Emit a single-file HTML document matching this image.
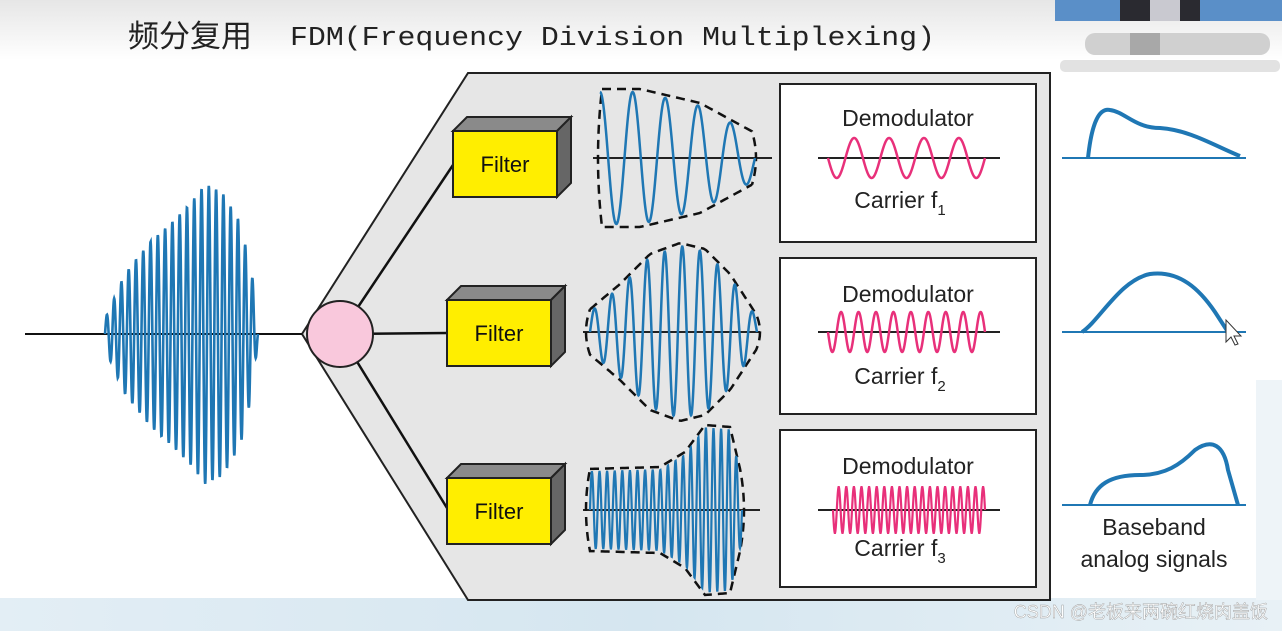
<!DOCTYPE html>
<html><head><meta charset="utf-8">
<style>
html,body{margin:0;padding:0;width:1282px;height:631px;overflow:hidden;background:#fff}
svg{display:block}
</style></head><body>
<svg id="s" width="1282" height="631" viewBox="0 0 1282 631" xmlns="http://www.w3.org/2000/svg">
<defs>
<linearGradient id="top" x1="0" y1="0" x2="0" y2="1">
<stop offset="0" stop-color="#e6e6e6"/><stop offset="1" stop-color="#ffffff"/></linearGradient>
<linearGradient id="bot" x1="0" y1="0" x2="1" y2="0">
<stop offset="0" stop-color="#e3eef5"/><stop offset="0.5" stop-color="#d5e6f0"/><stop offset="1" stop-color="#e8f1f6"/></linearGradient>
</defs>
<rect x="0" y="0" width="1282" height="60" fill="url(#top)"/>
<rect x="0" y="598" width="1282" height="33" fill="url(#bot)"/>
<rect x="1256" y="380" width="26" height="220" fill="#eef4f8"/>
<rect x="1055" y="0" width="227" height="21" fill="#5a8fc8"/>
<rect x="1120" y="0" width="80" height="21" fill="#2a2a30"/>
<rect x="1150" y="0" width="30" height="21" fill="#c9c9d0"/>
<rect x="1085" y="33" width="185" height="22" rx="10" fill="#d0d0d0"/>
<rect x="1130" y="33" width="30" height="22" fill="#a8a8a8"/>
<rect x="1060" y="60" width="220" height="12" rx="5" fill="#e2e2e2"/>
<text x="128" y="47" font-family="'Noto Sans CJK SC',sans-serif" font-size="31" fill="#222">频分复用</text>
<text x="290" y="45" font-family="'Liberation Mono','DejaVu Sans Mono',monospace" font-size="27" fill="#222" textLength="645" lengthAdjust="spacingAndGlyphs">FDM(Frequency Division Multiplexing)</text>
<polygon points="468,73 1050,73 1050,600 468,600 302,334" fill="#e6e6e6" stroke="#222" stroke-width="2"/>
<line x1="25" y1="334" x2="302" y2="334" stroke="#111" stroke-width="2"/>
<line x1="340" y1="334" x2="453" y2="165" stroke="#111" stroke-width="2.5"/>
<line x1="340" y1="334" x2="447" y2="333" stroke="#111" stroke-width="2.5"/>
<line x1="340" y1="334" x2="447" y2="508" stroke="#111" stroke-width="2.5"/>
<circle cx="340" cy="334" r="33" fill="#f9c8dc" stroke="#222" stroke-width="2"/>
<g id="filters" font-family="'Liberation Sans',sans-serif" font-size="22" fill="#111"></g>
<g font-family="'Liberation Sans',sans-serif" fill="#222">
<rect x="780" y="84" width="256" height="158" fill="#fff" stroke="#222" stroke-width="2"/>
<rect x="780" y="258" width="256" height="156" fill="#fff" stroke="#222" stroke-width="2"/>
<rect x="780" y="430" width="256" height="157" fill="#fff" stroke="#222" stroke-width="2"/>
<text x="908" y="126" font-size="23" text-anchor="middle">Demodulator</text>
<text x="908" y="302" font-size="23" text-anchor="middle">Demodulator</text>
<text x="908" y="474" font-size="23" text-anchor="middle">Demodulator</text>
<text x="900" y="208" font-size="23" text-anchor="middle">Carrier f<tspan font-size="15" dy="7">1</tspan></text>
<text x="900" y="384" font-size="23" text-anchor="middle">Carrier f<tspan font-size="15" dy="7">2</tspan></text>
<text x="900" y="556" font-size="23" text-anchor="middle">Carrier f<tspan font-size="15" dy="7">3</tspan></text>
<text x="1154" y="535" font-size="23" text-anchor="middle">Baseband</text>
<text x="1154" y="567" font-size="23" text-anchor="middle">analog signals</text>
</g>
<g id="waves" fill="none"></g>
<g stroke="#1f77b4" fill="none">
<line x1="1062" y1="158" x2="1246" y2="158" stroke-width="2"/>
<line x1="1062" y1="332" x2="1246" y2="332" stroke-width="2"/>
<line x1="1062" y1="505" x2="1246" y2="505" stroke-width="2"/>
<path d="M1088,158 C1092,120 1100,108 1110,110 C1125,112 1135,128 1160,128 C1190,130 1215,146 1240,156" stroke-width="4"/>
<path d="M1082,332 C1100,320 1120,280 1150,274 C1180,270 1200,290 1215,312 L1228,332" stroke-width="4"/>
<path d="M1090,505 C1095,485 1110,475 1140,475 C1165,475 1180,465 1195,450 C1212,438 1224,445 1228,470 L1238,505" stroke-width="4"/>
</g>
<path d="M1226,320 l0,22 l5,-5 l4,8 l3,-1 l-4,-8 l7,0 z" fill="#fff" stroke="#333" stroke-width="1"/>
<text x="1268" y="618" font-family="'Liberation Sans','Noto Sans CJK SC',sans-serif" font-size="18" fill="#fff" stroke="#999" stroke-width="0.4" text-anchor="end">CSDN @老板来两碗红烧肉盖饭</text>
</svg>
<script>
var NS="http://www.w3.org/2000/svg";
function el(p,t,a){var e=document.createElementNS(NS,t);for(var k in a)e.setAttribute(k,a[k]);p.appendChild(e);return e;}
function interp(env,x){for(var i=0;i<env.length-1;i++){if(x<=env[i+1][0]){var t=(x-env[i][0])/(env[i+1][0]-env[i][0]);return env[i][1]+t*(env[i+1][1]-env[i][1]);}}return env[env.length-1][1];}
function wave(x0,x1,cy,cycles,env,ph){var d="";var n=600;for(var i=0;i<=n;i++){var x=x0+(x1-x0)*i/n;var a=typeof env=="number"?env:interp(env,x);var y=cy-a*Math.sin(2*Math.PI*cycles*i/n+(ph||0));d+=(i?"L":"M")+x.toFixed(2)+","+y.toFixed(2);}return d;}
function envPath(x0,x1,cy,env){var d="";var n=60;var r=8;
for(var i=0;i<=n;i++){var x=x0+(x1-x0)*i/n;d+=(i?"L":"M")+x.toFixed(1)+","+(cy-interp(env,x)-3).toFixed(1);}
var a1=interp(env,x1)+3;d+="Q"+(x1+r)+","+cy+" "+x1+","+(cy+a1);
for(var i=n;i>=0;i--){var x=x0+(x1-x0)*i/n;d+="L"+x.toFixed(1)+","+(cy+interp(env,x)+3).toFixed(1);}
var a0=interp(env,x0)+3;d+="Q"+(x0-r)+","+cy+" "+x0+","+(cy-a0);return d;}
var w=document.getElementById("waves");var f=document.getElementById("filters");
[[453,131],[447,300],[447,478]].forEach(function(p){var x=p[0],y=p[1],W=104,H=66,o=14;
el(f,"polygon",{points:(x)+","+y+" "+(x+o)+","+(y-o)+" "+(x+W+o)+","+(y-o)+" "+(x+W)+","+y,fill:"#8a8a8a",stroke:"#222","stroke-width":2});
el(f,"polygon",{points:(x+W)+","+y+" "+(x+W+o)+","+(y-o)+" "+(x+W+o)+","+(y+H-o)+" "+(x+W)+","+(y+H),fill:"#666",stroke:"#222","stroke-width":2});
el(f,"rect",{x:x,y:y,width:W,height:H,fill:"#ffee00",stroke:"#222","stroke-width":2});
var t=el(f,"text",{x:x+W/2,y:y+H/2+8,"text-anchor":"middle"});t.textContent="Filter";});
var me=[[105,15],[125,60],[150,92],[170,110],[190,130],[205,150],[222,142],[240,112],[252,60],[258,5]];
el(w,"path",{d:wave(105,258,334,21,me,0),stroke:"#1f77b4","stroke-width":2.6});
el(w,"line",{x1:593,y1:158,x2:772,y2:158,stroke:"#222","stroke-width":2});
el(w,"line",{x1:583,y1:332,x2:760,y2:332,stroke:"#222","stroke-width":2});
el(w,"line",{x1:583,y1:510,x2:760,y2:510,stroke:"#222","stroke-width":2});
var e1=[[600,66],[640,66],[700,52],[755,22]];
var e2=[[588,18],[620,45],[650,75],[680,86],[705,80],[730,55],[758,12]];
var e3=[[588,38],[660,40],[685,55],[705,82],[730,80],[742,30]];
el(w,"path",{d:envPath(602,752,158,e1),stroke:"#111","stroke-width":2.5,"stroke-dasharray":"9,6"});
el(w,"path",{d:envPath(590,756,332,e2),stroke:"#111","stroke-width":2.5,"stroke-dasharray":"9,6"});
el(w,"path",{d:envPath(590,740,510,e3),stroke:"#111","stroke-width":2.5,"stroke-dasharray":"9,6"});
el(w,"path",{d:wave(600,755,158,4.75,e1,Math.PI/2),stroke:"#1f77b4","stroke-width":2.5});
el(w,"path",{d:wave(590,757,332,9.5,e2,0),stroke:"#1f77b4","stroke-width":2.5});
el(w,"path",{d:wave(590,742,510,20,e3,0),stroke:"#1f77b4","stroke-width":2.2});
el(w,"line",{x1:818,y1:158,x2:1000,y2:158,stroke:"#222","stroke-width":2});
el(w,"line",{x1:818,y1:332,x2:1000,y2:332,stroke:"#222","stroke-width":2});
el(w,"line",{x1:818,y1:510,x2:1000,y2:510,stroke:"#222","stroke-width":2});
el(w,"path",{d:wave(828,985,158,4.5,20,Math.PI),stroke:"#e8307a","stroke-width":2.5});
el(w,"path",{d:wave(828,985,332,9,20,Math.PI),stroke:"#e8307a","stroke-width":2.5});
el(w,"path",{d:wave(833,985,510,20,23,Math.PI),stroke:"#e8307a","stroke-width":2.2});
</script>
</body></html>
